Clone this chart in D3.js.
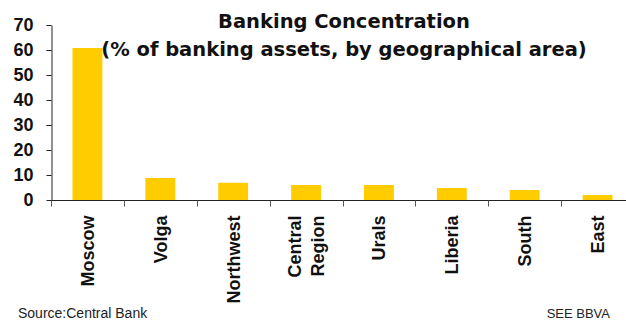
<!DOCTYPE html>
<html>
<head>
<meta charset="utf-8">
<script src="https://cdn.jsdelivr.net/npm/d3@7"></script>
<style>
  html, body { margin: 0; padding: 0; background: #fff; }
  svg { display: block; }
  text { fill: #111; }
</style>
</head>
<body>
<svg id="chart" width="626" height="320"></svg>
<script>
// Share of banking assets by region (%)
const regions = ["Moscow", "Volga", "Northwest", "Central Region", "Urals", "Liberia", "South", "East"];
const shares = [60.8, 8.8, 6.9, 6.0, 6.0, 4.8, 4.0, 2.0];
const yTicks = [0, 10, 20, 30, 40, 50, 60, 70];
const titleLines = ["Banking Concentration", "(% of banking assets, by geographical area)"];
const sourceNote = "Source:Central Bank";
const creditNote = "SEE BBVA";

const SANS = "'Liberation Sans', Arial, sans-serif";
const WIDE = "'DejaVu Sans', Verdana, sans-serif";

const svg = d3.select("#chart");

const x = d3.scaleBand().domain(regions).range([51, 634]).padding(0);
const y = d3.scaleLinear().domain([0, 70]).range([200, 25]);
const barFrac = 0.41;

// Bars
svg.append("g")
  .selectAll("rect")
  .data(regions)
  .join("rect")
  .attr("x", (d) => x(d) + x.bandwidth() * (1 - barFrac) / 2)
  .attr("width", x.bandwidth() * barFrac)
  .attr("y", (d, i) => y(shares[i]))
  .attr("height", (d, i) => y(0) - y(shares[i]))
  .attr("fill", "#FFCC00");

// Y axis
const yAxis = svg.append("g")
  .attr("transform", "translate(51.5,0)")
  .call(d3.axisLeft(y).tickValues(yTicks).tickSize(5).tickPadding(13).tickSizeOuter(0));
yAxis.select(".domain").attr("stroke", "#222");
yAxis.selectAll(".tick line").attr("stroke", "#222");
yAxis.selectAll(".tick text")
  .style("font-family", SANS)
  .style("font-size", "18px")
  .style("font-weight", "bold")
  .style("fill", "#111");

// X axis: baseline with ticks at category boundaries
const xBase = svg.append("g").attr("transform", `translate(0,${y(0) + 0.5})`);
xBase.append("line")
  .attr("x1", 51).attr("x2", 634)
  .attr("stroke", "#222");
xBase.selectAll("line.cat")
  .data(regions)
  .join("line")
  .attr("class", "cat")
  .attr("x1", (d) => Math.round(x(d)) + 0.5)
  .attr("x2", (d) => Math.round(x(d)) + 0.5)
  .attr("y1", 0).attr("y2", 6)
  .attr("stroke", "#555");

// Rotated category labels
const labels = svg.append("g")
  .selectAll("text")
  .data(regions)
  .join("text")
  .attr("transform", (d) => `translate(${x(d) + x.bandwidth() / 2},215.5) rotate(-90)`)
  .attr("text-anchor", "end")
  .style("font-family", SANS)
  .style("font-size", "18px")
  .style("font-weight", "bold");
labels.each(function (d) {
  const words = d.split(" ");
  const t = d3.select(this);
  const lh = 1.25;
  const start = 0.35 - (words.length - 1) * lh / 2;
  words.forEach((w, i) => {
    t.append("tspan")
      .attr("x", 0)
      .attr("y", 0)
      .attr("dy", (start + i * lh) + "em")
      .text(w);
  });
});

// Title
svg.append("g")
  .selectAll("text")
  .data(titleLines)
  .join("text")
  .attr("x", 344)
  .attr("y", (d, i) => 28 + i * 28)
  .attr("text-anchor", "middle")
  .style("font-family", WIDE)
  .style("font-size", "19.5px")
  .style("font-weight", "bold")
  .text((d) => d);

// Footer notes
svg.append("text")
  .attr("x", 18).attr("y", 318)
  .style("font-family", SANS)
  .style("font-size", "14px")
  .style("fill", "#222")
  .text(sourceNote);
svg.append("text")
  .attr("x", 610).attr("y", 318)
  .attr("text-anchor", "end")
  .style("font-family", SANS)
  .style("font-size", "13px")
  .style("fill", "#222")
  .text(creditNote);
</script>
</body>
</html>
